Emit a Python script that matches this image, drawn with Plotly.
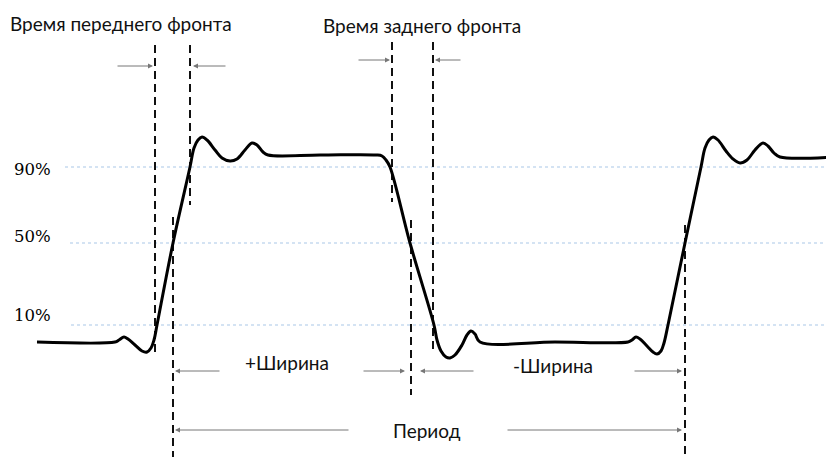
import plotly.graph_objs as go

# pulse waveform (x, y in picture units, y grows downward)
wave_x = [37, 115, 119, 124, 128, 135, 142, 147, 151, 154, 157, 173, 190, 194, 198, 202, 207,
          215, 222, 230, 237, 245, 252, 257, 263, 268, 320, 376, 382, 386, 390, 410, 434, 437,
          441, 446, 450, 455, 462, 467, 471, 475, 480, 555, 628, 632, 636, 640, 647, 653, 657,
          661, 664, 668, 685, 701, 705, 709, 713, 718, 726, 733, 740, 747, 755, 763, 768, 774,
          780, 834]
wave_y = [342, 342, 340, 337, 339, 345, 351, 352, 348, 340, 325, 243, 167, 148, 140, 137, 140,
          150, 158, 161, 159, 150, 143, 145, 152, 155, 155, 155, 156, 160, 167, 243, 325, 340,
          351, 357, 358, 355, 345, 335, 331, 334, 342, 342, 342, 340, 337, 339, 346, 352, 354,
          351, 343, 325, 243, 167, 148, 140, 137, 140, 151, 159, 163, 160, 150, 143, 146, 153,
          157, 157]

# reference levels
level_names = ["90%", "50%", "10%"]
level_y = [167, 243, 325]
level_start = [65, 70, 71]
level_label_y = [169, 236, 315]

# dashed markers: x, top, bottom
marker_x = [155, 190, 173, 392, 433, 411, 685]
marker_top = [45, 45, 217, 42, 42, 220, 225]
marker_bottom = [357, 205, 457, 202, 352, 395, 457]

# arrows: tail x, head x, y
arrow_tail = [116, 227, 357, 462, 221, 362, 475, 633, 350, 506]
arrow_head = [153, 193, 390, 435, 175, 405, 420, 682, 175, 682]
arrow_y = [66, 66, 60, 60, 371, 371, 371, 371, 430, 430]

# captions
captions = ["Время переднего фронта", "Время заднего фронта", "+Ширина", "-Ширина", "Период"]
caption_x = [8, 321, 243, 511, 391]
caption_y = [23, 25, 362, 365, 430]

fig = go.Figure()

for name, y, x0 in zip(level_names, level_y, level_start):
    fig.add_trace(go.Scatter(x=[x0, 834], y=[y, y], mode="lines",
                             line=dict(color="#a9c8e8", width=1.2, dash="dot"),
                             hoverinfo="skip"))

for x, t, b in zip(marker_x, marker_top, marker_bottom):
    fig.add_trace(go.Scatter(x=[x, x], y=[t, b], mode="lines",
                             line=dict(color="#111111", width=2, dash="8px,5px"),
                             hoverinfo="skip"))

fig.add_trace(go.Scatter(x=wave_x, y=wave_y, mode="lines",
                         line=dict(color="#000000", width=3, shape="spline", smoothing=1),
                         hoverinfo="skip"))

annotations = []
for name, y in zip(level_names, level_label_y):
    annotations.append(dict(x=12, y=y, text=name, showarrow=False, xanchor="left",
                            font=dict(family="DejaVu Serif", size=16.5, color="#000000")))

for t, h, y in zip(arrow_tail, arrow_head, arrow_y):
    annotations.append(dict(x=h, y=y, ax=t, ay=y, axref="x", ayref="y", text="",
                            showarrow=True, arrowhead=2, arrowsize=1, arrowwidth=1,
                            arrowcolor="#777777"))

for text, x, y in zip(captions, caption_x, caption_y):
    annotations.append(dict(x=x, y=y, text=text, showarrow=False, xanchor="left",
                            font=dict(family="Lato", size=19, color="#111111")))

# the page body has an 8px margin, so the figure is shrunk by that much
fig.update_layout(
    width=826, height=449,
    margin=dict(l=0, r=0, t=0, b=0),
    paper_bgcolor="white", plot_bgcolor="white",
    showlegend=False,
    xaxis=dict(range=[8, 834], visible=False, fixedrange=True),
    yaxis=dict(range=[457, 8], visible=False, fixedrange=True),
    annotations=annotations,
)

fig.write_html("out.html")
